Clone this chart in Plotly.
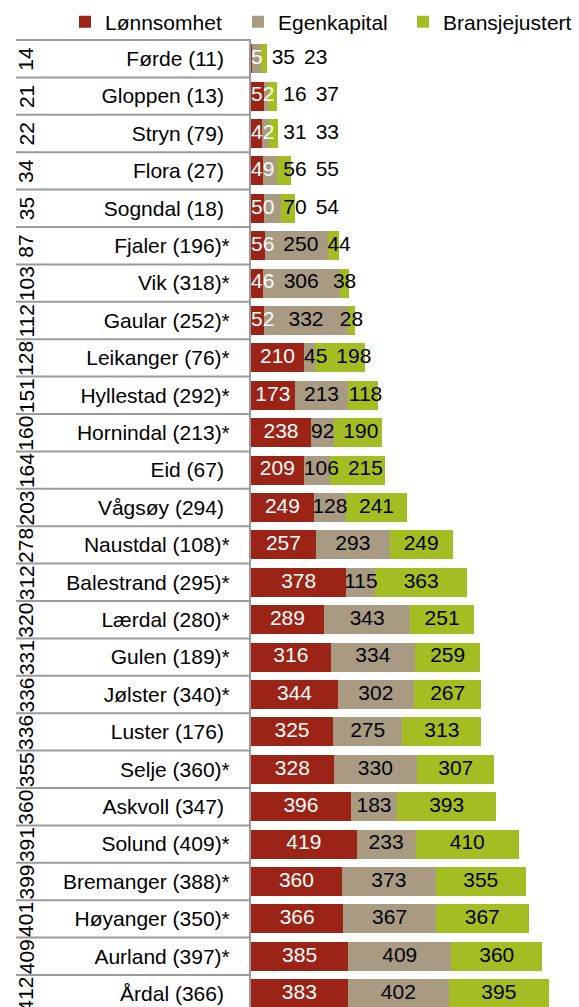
import plotly.graph_objects as go

# Kommuner (top to bottom) and their rank numbers
kommuner = [
    "Førde (11)", "Gloppen (13)", "Stryn (79)", "Flora (27)", "Sogndal (18)",
    "Fjaler (196)*", "Vik (318)*", "Gaular (252)*", "Leikanger (76)*",
    "Hyllestad (292)*", "Hornindal (213)*", "Eid (67)", "Vågsøy (294)",
    "Naustdal (108)*", "Balestrand (295)*", "Lærdal (280)*", "Gulen (189)*",
    "Jølster (340)*", "Luster (176)", "Selje (360)*", "Askvoll (347)",
    "Solund (409)*", "Bremanger (388)*", "Høyanger (350)*", "Aurland (397)*",
    "Årdal (366)",
]
rangering = [14, 21, 22, 34, 35, 87, 103, 112, 128, 151, 160, 164, 203, 278,
             312, 320, 331, 336, 336, 355, 360, 391, 399, 401, 409, 412]

lonnsomhet = [5, 52, 42, 49, 50, 56, 46, 52, 210, 173, 238, 209, 249, 257,
              378, 289, 316, 344, 325, 328, 396, 419, 360, 366, 385, 383]
egenkapital = [35, 16, 31, 56, 70, 250, 306, 332, 45, 213, 92, 106, 128, 293,
               115, 343, 334, 302, 275, 330, 183, 233, 373, 367, 409, 402]
bransjejustert = [23, 37, 33, 55, 54, 44, 38, 28, 198, 118, 190, 215, 241, 249,
                  363, 251, 259, 267, 313, 307, 393, 410, 355, 367, 360, 395]

serier = [
    ("Lønnsomhet", lonnsomhet, "#9c2416", "white"),
    ("Egenkapital", egenkapital, "#a89b82", "black"),
    ("Bransjejustert", bransjejustert, "#a4bd22", "black"),
]

W, H = 579, 1007
ML, MT = 251, 39
FONT = "Liberation Sans, Arial, sans-serif"
FS = 21
XMAX = 1300
plot_w = W - ML
px_per_unit = plot_w / XMAX
row_px = 37.4
n = len(kommuner)
y_top = -0.5 - 1 / row_px
y_bot = y_top + (H - MT) / row_px
LINE = "#9a9a9a"

fig = go.Figure()

legends = ["legend", "legend2", "legend3"]
for (navn, verdier, farge, _), lg in zip(serier, legends):
    fig.add_trace(go.Bar(
        name=navn, y=kommuner, x=verdier, orientation="h",
        marker=dict(color=farge, line=dict(width=0)),
        legend=lg, hoverinfo="x+name",
    ))

# Value labels: centred in each segment, pushed right when they would collide
char_w = 0.556 * FS
gap_px = 9
lab_x = [[], [], []]
for i in range(n):
    start = 0.0
    prev_right = 0.0
    for k, (_, verdier, _, _) in enumerate(serier):
        v = verdier[i]
        half = len(str(v)) * char_w / 2 / px_per_unit
        c = start + v / 2
        min_c = prev_right + (gap_px / px_per_unit if k else 0) + half
        c = max(c, min_c)
        lab_x[k].append(c)
        prev_right = c + half
        start += v

for k, (navn, verdier, _, tfarge) in enumerate(serier):
    fig.add_trace(go.Scatter(
        x=lab_x[k], y=kommuner, mode="text",
        text=[str(v) for v in verdier],
        textfont=dict(family=FONT, size=FS, color=tfarge),
        textposition="middle center", showlegend=False, hoverinfo="skip",
    ))

# Rotated rank numbers in the outer label column
for navn, r in zip(kommuner, rangering):
    fig.add_annotation(
        x=(26 - ML) / plot_w, xref="paper", y=navn, yref="y",
        text=str(r), textangle=-90, showarrow=False,
        font=dict(family=FONT, size=FS, color="black"),
        xanchor="center", yanchor="middle",
    )

# Separator lines between the category rows of the label table
for i in range(n + 1):
    fig.add_shape(
        type="line", xref="paper", yref="y",
        x0=(16 - ML) / plot_w, x1=0, y0=i - 0.5, y1=i - 0.5,
        line=dict(color=LINE, width=2), layer="below",
    )

ticktext = [k if k.endswith("*") else k + "\u00a0" for k in kommuner]
leg_y = 1 + (MT - 22) / (H - MT)
leg_common = dict(y=leg_y, xanchor="left", yanchor="middle", orientation="h",
                  bgcolor="rgba(0,0,0,0)", font=dict(family=FONT, size=FS))

fig.update_layout(
    width=W, height=H,
    margin=dict(l=ML, r=0, t=MT, b=0, pad=0),
    paper_bgcolor="white", plot_bgcolor="white",
    barmode="stack", bargap=0.225,
    font=dict(family=FONT, size=FS, color="black"),
    xaxis=dict(range=[0, XMAX], showgrid=False, zeroline=False,
               showticklabels=False, showline=False, ticks=""),
    yaxis=dict(
        type="category", categoryorder="array", categoryarray=kommuner,
        range=[y_bot, y_top],
        tickmode="array", tickvals=kommuner, ticktext=ticktext,
        ticks="outside", ticklen=15, tickwidth=1,
        tickcolor="rgba(0,0,0,0)",
        showline=True, linecolor=LINE, linewidth=2,
        showgrid=False, zeroline=False,
        tickfont=dict(family=FONT, size=FS, color="black"),
    ),
    legend=dict(x=(65 - ML) / plot_w, **leg_common),
    legend2=dict(x=(238 - ML) / plot_w, **leg_common),
    legend3=dict(x=(403 - ML) / plot_w, **leg_common),
)

fig.write_html("out.html")
